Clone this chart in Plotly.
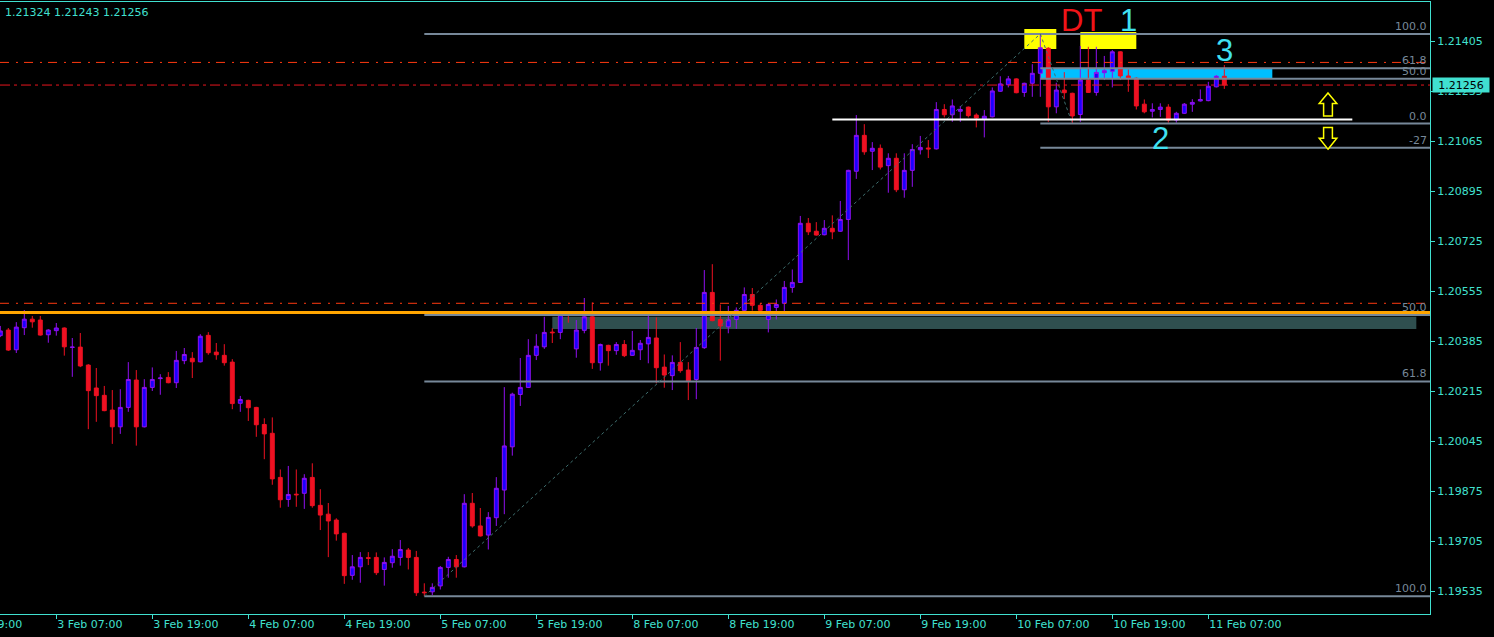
import plotly.graph_objects as go

# ---------------- data (EURUSD H1, bar 0 = 3 Feb 00:00) ----------------
opens = [1.20404, 1.20423, 1.20356, 1.20431, 1.20460, 1.20457, 1.20407, 1.20421, 1.20430, 1.20364,
         1.20365, 1.20304, 1.20226, 1.20201, 1.20151, 1.20094, 1.20160, 1.20253, 1.20094, 1.20228,
         1.20258, 1.20262, 1.20244, 1.20319, 1.20327, 1.20315, 1.20405, 1.20348, 1.20337, 1.20314,
         1.20174, 1.20184, 1.20160, 1.20102, 1.20072, 1.19922, 1.19847, 1.19865, 1.19868, 1.19922,
         1.19827, 1.19797, 1.19777, 1.19732, 1.19589, 1.19618, 1.19649, 1.19650, 1.19609, 1.19632,
         1.19650, 1.19675, 1.19650, 1.19532, 1.19533, 1.19553, 1.19616, 1.19643, 1.19618, 1.19834,
         1.19757, 1.19726, 1.19785, 1.19879, 1.20026, 1.20204, 1.20228, 1.20337, 1.20366, 1.20416,
         1.20415, 1.20480, 1.20359, 1.20422, 1.20468, 1.20312, 1.20371, 1.20353, 1.20374, 1.20337,
         1.20356, 1.20376, 1.20396, 1.20297, 1.20268, 1.20313, 1.20287, 1.20255, 1.20363, 1.20551,
         1.20459, 1.20434, 1.20459, 1.20490, 1.20544, 1.20507, 1.20459, 1.20500, 1.20514, 1.20568,
         1.20585, 1.20786, 1.20759, 1.20747, 1.20769, 1.20759, 1.20799, 1.20963, 1.21085, 1.21031,
         1.21041, 1.20982, 1.21007, 1.20900, 1.20966, 1.21036, 1.21042, 1.21039, 1.21173, 1.21155,
         1.21167, 1.21181, 1.21154, 1.21140, 1.21148, 1.21235, 1.21257, 1.21277, 1.21231, 1.21262,
         1.21296, 1.21381, 1.21182, 1.21239, 1.21228, 1.21156, 1.21273, 1.21231, 1.21298, 1.21303,
         1.21369, 1.21287, 1.21279, 1.21191, 1.21167, 1.21173, 1.21181, 1.21137, 1.21160, 1.21191,
         1.21202, 1.21203, 1.21250, 1.21286]
highs = [1.20437, 1.20430, 1.20450, 1.20491, 1.20471, 1.20471, 1.20426, 1.20447, 1.20432, 1.20396,
         1.20413, 1.20307, 1.20294, 1.20233, 1.20219, 1.20222, 1.20314, 1.20287, 1.20256, 1.20296,
         1.20273, 1.20280, 1.20352, 1.20362, 1.20348, 1.20409, 1.20416, 1.20379, 1.20375, 1.20324,
         1.20199, 1.20186, 1.20162, 1.20123, 1.20126, 1.19949, 1.19961, 1.19949, 1.19933, 1.19970,
         1.19882, 1.19835, 1.19783, 1.19734, 1.19658, 1.19668, 1.19668, 1.19667, 1.19650, 1.19678,
         1.19709, 1.19682, 1.19672, 1.19562, 1.19562, 1.19621, 1.19652, 1.19658, 1.19865, 1.19869,
         1.19818, 1.19804, 1.19923, 1.20229, 1.20210, 1.20328, 1.20392, 1.20409, 1.20468, 1.20429,
         1.20488, 1.20488, 1.20457, 1.20532, 1.20517, 1.20377, 1.20373, 1.20382, 1.20389, 1.20420,
         1.20389, 1.20477, 1.20466, 1.20340, 1.20337, 1.20382, 1.20314, 1.20430, 1.20627, 1.20647,
         1.20510, 1.20505, 1.20500, 1.20568, 1.20566, 1.20514, 1.20514, 1.20527, 1.20590, 1.20629,
         1.20811, 1.20804, 1.20790, 1.20797, 1.20813, 1.20862, 1.20968, 1.21154, 1.21123, 1.21062,
         1.21054, 1.21024, 1.21024, 1.21024, 1.21055, 1.21083, 1.21069, 1.21198, 1.21191, 1.21207,
         1.21185, 1.21183, 1.21160, 1.21171, 1.21248, 1.21286, 1.21287, 1.21279, 1.21264, 1.21327,
         1.21430, 1.21385, 1.21264, 1.21300, 1.21230, 1.21389, 1.21386, 1.21386, 1.21355, 1.21375,
         1.21371, 1.21309, 1.21282, 1.21207, 1.21194, 1.21194, 1.21191, 1.21165, 1.21195, 1.21208,
         1.21241, 1.21267, 1.21290, 1.21324]
lows = [1.20399, 1.20352, 1.20345, 1.20406, 1.20431, 1.20404, 1.20380, 1.20404, 1.20336, 1.20264,
        1.20297, 1.20086, 1.20111, 1.20147, 1.20036, 1.20070, 1.20145, 1.20030, 1.20092, 1.20216,
        1.20203, 1.20242, 1.20226, 1.20307, 1.20260, 1.20313, 1.20339, 1.20322, 1.20302, 1.20154,
        1.20145, 1.20114, 1.20060, 1.19984, 1.19897, 1.19819, 1.19822, 1.19822, 1.19815, 1.19819,
        1.19743, 1.19651, 1.19707, 1.19560, 1.19574, 1.19564, 1.19624, 1.19590, 1.19554, 1.19615,
        1.19622, 1.19609, 1.19519, 1.19518, 1.19522, 1.19541, 1.19581, 1.19581, 1.19616, 1.19751,
        1.19721, 1.19677, 1.19757, 1.19797, 1.19996, 1.20165, 1.20226, 1.20321, 1.20359, 1.20379,
        1.20392, 1.20448, 1.20329, 1.20412, 1.20291, 1.20285, 1.20302, 1.20339, 1.20331, 1.20335,
        1.20321, 1.20310, 1.20242, 1.20227, 1.20219, 1.20278, 1.20185, 1.20188, 1.20359, 1.20453,
        1.20319, 1.20412, 1.20427, 1.20472, 1.20489, 1.20476, 1.20415, 1.20459, 1.20482, 1.20550,
        1.20583, 1.20746, 1.20744, 1.20745, 1.20732, 1.20757, 1.20661, 1.20937, 1.21019, 1.20967,
        1.20969, 1.20890, 1.20892, 1.20873, 1.20910, 1.21020, 1.21008, 1.21037, 1.21146, 1.21131,
        1.21131, 1.21146, 1.21112, 1.21078, 1.21146, 1.21233, 1.21248, 1.21228, 1.21216, 1.21216,
        1.21216, 1.21131, 1.21160, 1.21208, 1.21125, 1.21131, 1.21229, 1.21220, 1.21273, 1.21248,
        1.21273, 1.21233, 1.21173, 1.21160, 1.21146, 1.21148, 1.21128, 1.21128, 1.21158, 1.21165,
        1.21200, 1.21201, 1.21248, 1.21243]
closes = [1.20420, 1.20355, 1.20433, 1.20460, 1.20451, 1.20406, 1.20423, 1.20430, 1.20366, 1.20365,
          1.20301, 1.20217, 1.20200, 1.20149, 1.20094, 1.20160, 1.20255, 1.20094, 1.20228, 1.20255,
          1.20260, 1.20244, 1.20320, 1.20340, 1.20315, 1.20402, 1.20346, 1.20339, 1.20312, 1.20173,
          1.20187, 1.20159, 1.20101, 1.20070, 1.19917, 1.19846, 1.19864, 1.19863, 1.19919, 1.19826,
          1.19794, 1.19774, 1.19730, 1.19588, 1.19618, 1.19650, 1.19647, 1.19598, 1.19633, 1.19654,
          1.19677, 1.19650, 1.19530, 1.19530, 1.19548, 1.19616, 1.19643, 1.19618, 1.19834, 1.19757,
          1.19723, 1.19786, 1.19885, 1.20029, 1.20205, 1.20228, 1.20337, 1.20368, 1.20415, 1.20414,
          1.20480, 1.20475, 1.20423, 1.20468, 1.20312, 1.20374, 1.20353, 1.20374, 1.20336, 1.20354,
          1.20378, 1.20398, 1.20295, 1.20270, 1.20313, 1.20285, 1.20250, 1.20364, 1.20551, 1.20455,
          1.20437, 1.20458, 1.20490, 1.20544, 1.20507, 1.20490, 1.20510, 1.20510, 1.20568, 1.20585,
          1.20786, 1.20757, 1.20746, 1.20769, 1.20757, 1.20799, 1.20966, 1.21085, 1.21029, 1.21041,
          1.20977, 1.21007, 1.20900, 1.20966, 1.21037, 1.21044, 1.21039, 1.21173, 1.21155, 1.21185,
          1.21173, 1.21152, 1.21144, 1.21150, 1.21236, 1.21260, 1.21277, 1.21230, 1.21262, 1.21296,
          1.21383, 1.21182, 1.21239, 1.21230, 1.21151, 1.21273, 1.21231, 1.21299, 1.21305, 1.21369,
          1.21287, 1.21280, 1.21185, 1.21165, 1.21173, 1.21181, 1.21137, 1.21160, 1.21191, 1.21197,
          1.21207, 1.21252, 1.21286, 1.21256]

time_tick_bars = [7, 19, 31, 43, 55, 67, 79, 91, 103, 115, 127, 139, 151]
time_tick_text = ["3 Feb 07:00", "3 Feb 19:00", "4 Feb 07:00", "4 Feb 19:00", "5 Feb 07:00",
                  "5 Feb 19:00", "8 Feb 07:00", "8 Feb 19:00", "9 Feb 07:00", "9 Feb 19:00",
                  "10 Feb 07:00", "10 Feb 19:00", "11 Feb 07:00"]
first_tick_bar = -5
first_tick_text = "2 Feb 19:00"
price_ticks = [1.19535, 1.19705, 1.19875, 1.20045, 1.20215, 1.20385,
               1.20555, 1.20725, 1.20895, 1.21065, 1.21235, 1.21405]

header_text = "1.21324 1.21243 1.21256"
last_price = 1.21256

# horizontal levels
red_level_top = 1.21333
red_level_low = 1.20514
orange_level = 1.20483

# fibonacci objects: (bar, price) anchors
fibA_lo = (53, 1.19518)
fibA_hi = (130, 1.21430)
fibA_levels = [0.0, 50.0, 61.8, 100.0]
fibA_labels = {50.0: "50.0", 61.8: "61.8", 100.0: "100.0"}
fibB_hi = (130, 1.21430)
fibB_lo = (134, 1.21125)
fibB_levels = [100.0, 61.8, 50.0, 0.0, -27.0]
fibB_labels = {100.0: "100.0", 61.8: "61.8", 50.0: "50.0", 0.0: "0.0", -27.0: "-27"}

# zones: (bar0, bar1, price0, price1)
slate_zone = (69, 177, 1.20427, 1.20468)
yellow_zone1 = (128, 132, 1.21379, 1.21447)
yellow_zone2 = (135, 142, 1.21379, 1.21436)
blue_zone = (130, 159, 1.21277, 1.21311)
white_line = (104, 169, 1.21139)

# text labels: (text, bar, price, color)
txt_labels = [("DT", 135.09, 1.21475, "#F01418"),
              ("1", 141.03, 1.21475, "#40E0F0"),
              ("3", 153.03, 1.21375, "#40E0F0"),
              ("2", 145.03, 1.21076, "#40E0F0")]
# arrows: (center bar, tip price, head-base price, tail price)
arrow_up = (165.96, 1.21229, 1.21193, 1.21151)
arrow_down = (165.96, 1.21038, 1.21075, 1.21112)

# ---------------- figure ----------------
TQ = "#40E0D0"
GRID_GREY = "#778899"
X_MIN, X_MAX = -0.0375, 178.71
Y_MIN, Y_MAX = 1.194576, 1.215384
FONT = "DejaVu Sans"

x_idx = list(range(len(opens)))

fig = go.Figure()
fig.add_trace(go.Candlestick(
    x=x_idx, open=opens, high=highs, low=lows, close=closes,
    increasing=dict(line=dict(color="#9010F0", width=1), fillcolor="#1C00FF"),
    decreasing=dict(line=dict(color="#EE1122", width=1), fillcolor="#EE1122"),
    whiskerwidth=0, hoverinfo="skip", showlegend=False))

shapes = []
def rect(z, color):
    shapes.append(dict(type="rect", xref="x", yref="y", x0=z[0], x1=z[1], y0=z[2], y1=z[3],
                       fillcolor=color, line=dict(width=0), layer="below"))

rect(yellow_zone1, "#FFFF00")
rect(yellow_zone2, "#FFFF00")
rect(blue_zone, "#00BFFF")
rect(slate_zone, "#2F4F4F")

def hline(y, color, width, dash="solid", x0=None, x1=None, layer="above"):
    if x0 is None:
        shapes.append(dict(type="line", xref="paper", yref="y", x0=0, x1=1, y0=y, y1=y,
                           line=dict(color=color, width=width, dash=dash), layer=layer))
    else:
        shapes.append(dict(type="line", xref="x", yref="y", x0=x0, x1=x1, y0=y, y1=y,
                           line=dict(color=color, width=width, dash=dash), layer=layer))

# fib A (0 at top, 100 at bottom)
fibA_prices = {}
for lv in fibA_levels:
    p = fibA_hi[1] - lv / 100.0 * (fibA_hi[1] - fibA_lo[1])
    fibA_prices[lv] = p
    hline(p, GRID_GREY, 2, x0=fibA_lo[0], x1=X_MAX)
# fib B (100 at top, 0 at bottom)
fibB_prices = {}
for lv in fibB_levels:
    p = fibB_lo[1] + lv / 100.0 * (fibB_hi[1] - fibB_lo[1])
    fibB_prices[lv] = p
    hline(p, GRID_GREY, 2, x0=fibB_hi[0], x1=X_MAX)

# fib trend lines
for a, b in [(fibA_lo, fibA_hi), (fibB_hi, fibB_lo)]:
    shapes.append(dict(type="line", xref="x", yref="y", x0=a[0], y0=a[1], x1=b[0], y1=b[1],
                       line=dict(color="#3E6E6E", width=1, dash="dot"), layer="above"))

hline(red_level_top, "#FF3A10", 1, dash="9px,7px,2px,6px")
hline(last_price, "#E8141E", 1, dash="10px,4px,3px,4px")
hline(red_level_low, "#FF3A10", 1, dash="9px,7px,2px,6px")
hline(orange_level, "#FFA500", 3)
hline(white_line[2], "#FFFFFF", 2, x0=white_line[0], x1=white_line[1])

# arrows (outlined)
def arrow_path(a):
    cx, tip, base, tail = a
    hw, sw = 1.1, 0.55
    return (f"M {cx},{tip} L {cx+hw},{base} L {cx+sw},{base} L {cx+sw},{tail} "
            f"L {cx-sw},{tail} L {cx-sw},{base} L {cx-hw},{base} Z")
for a in (arrow_up, arrow_down):
    shapes.append(dict(type="path", xref="x", yref="y", path=arrow_path(a),
                       line=dict(color="#FFFF00", width=1.5), fillcolor="#000000", layer="above"))

annotations = []
# fib labels
for lv, t in fibB_labels.items():
    annotations.append(dict(text=t, xref="paper", x=1, xanchor="right", xshift=-1,
                            yref="y", y=fibB_prices[lv], yanchor="bottom", yshift=-1,
                            showarrow=False, font=dict(family=FONT, size=11, color=GRID_GREY)))
for lv, t in fibA_labels.items():
    annotations.append(dict(text=t, xref="paper", x=1, xanchor="right", xshift=-1,
                            yref="y", y=fibA_prices[lv], yanchor="bottom", yshift=-1,
                            showarrow=False, font=dict(family=FONT, size=11, color=GRID_GREY)))
# chart text
for t, bx, py, col in txt_labels:
    annotations.append(dict(text=t, xref="x", x=bx, yref="y", y=py, xanchor="center",
                            yanchor="middle", showarrow=False,
                            font=dict(family="Liberation Sans", size=31, color=col)))
# header
annotations.append(dict(text=header_text, xref="paper", x=0, xanchor="left", xshift=3,
                        yref="paper", y=1, yanchor="top", yshift=-2, showarrow=False,
                        font=dict(family=FONT, size=11, color=TQ)))
# partial first time label (cut by the left edge)
annotations.append(dict(text=first_tick_text, xref="paper",
                        x=(first_tick_bar - X_MIN) / (X_MAX - X_MIN),
                        xanchor="left", xshift=-5, yref="paper", y=0, yanchor="top", yshift=-2,
                        showarrow=False, font=dict(family=FONT, size=11, color=TQ)))
# last price box
annotations.append(dict(text=f"{last_price:.5f}", xref="paper", x=1, xanchor="left", xshift=2,
                        yref="y", y=last_price, yanchor="middle", showarrow=False,
                        bgcolor=TQ, borderpad=1, width=54, height=12,
                        font=dict(family=FONT, size=11, color="#000000")))

fig.update_layout(
    width=1494, height=637,
    margin=dict(l=0, r=64, t=2, b=23),
    paper_bgcolor="#000000", plot_bgcolor="#000000",
    showlegend=False, hovermode=False,
    shapes=shapes, annotations=annotations,
    xaxis=dict(range=[X_MIN, X_MAX], rangeslider=dict(visible=False), showgrid=False,
               zeroline=False, showline=True, mirror=True, linecolor=TQ, linewidth=1,
               ticks="outside", ticklen=4, tickcolor=TQ, tickwidth=1,
               tickvals=time_tick_bars, ticktext=time_tick_text,
               ticklabelposition="outside right",
               tickfont=dict(family=FONT, size=11, color=TQ), fixedrange=True),
    yaxis=dict(range=[Y_MIN, Y_MAX], side="right", showgrid=False, zeroline=False,
               showline=True, linecolor=TQ, linewidth=1,
               ticks="outside", ticklen=4, tickcolor=TQ, tickwidth=1,
               tickvals=price_ticks, tickformat=".5f",
               tickfont=dict(family=FONT, size=11, color=TQ), fixedrange=True),
)

fig.write_html("out.html", config={"displayModeBar": False},
               post_script="document.body.style.margin='0';document.body.style.overflow='hidden';")
